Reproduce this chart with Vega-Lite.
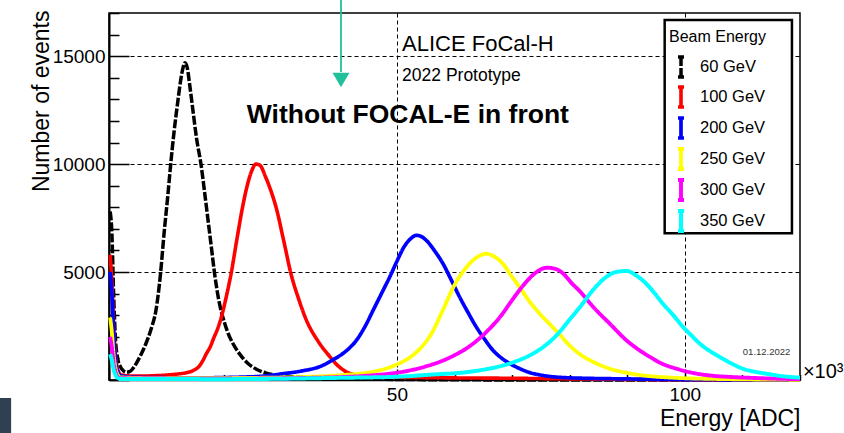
{
"$schema":"https://vega.github.io/schema/vega-lite/v6.json",
"width":691,"height":367,
"autosize":{"type":"none"},
"padding":{"left":109,"top":13,"right":44,"bottom":53},
"background":"white",
"config":{"view":{"stroke":"black","strokeWidth":1.5},"font":"Liberation Sans"},
"datasets":{
"curves":[
{"s":"60 GeV","E":0.2,"N":7800},{"s":"60 GeV","E":0.5,"N":6800},{"s":"60 GeV","E":0.8,"N":4000},{"s":"60 GeV","E":1.1,"N":2000},{"s":"60 GeV","E":1.5,"N":1000},{"s":"60 GeV","E":2.0,"N":600},{"s":"60 GeV","E":2.5,"N":430},{"s":"60 GeV","E":3.0,"N":360},{"s":"60 GeV","E":3.5,"N":380},{"s":"60 GeV","E":4.0,"N":480},{"s":"60 GeV","E":4.7,"N":750},{"s":"60 GeV","E":5.5,"N":1150},{"s":"60 GeV","E":6.4,"N":1680},{"s":"60 GeV","E":7.3,"N":2350},{"s":"60 GeV","E":8.2,"N":3300},{"s":"60 GeV","E":8.9,"N":4800},{"s":"60 GeV","E":9.6,"N":6900},{"s":"60 GeV","E":10.2,"N":8500},{"s":"60 GeV","E":10.7,"N":9950},{"s":"60 GeV","E":11.3,"N":11500},{"s":"60 GeV","E":11.9,"N":12800},{"s":"60 GeV","E":12.4,"N":13800},{"s":"60 GeV","E":12.8,"N":14400},{"s":"60 GeV","E":13.2,"N":14700},{"s":"60 GeV","E":13.6,"N":14450},{"s":"60 GeV","E":14.0,"N":13700},{"s":"60 GeV","E":14.5,"N":12650},{"s":"60 GeV","E":15.2,"N":11200},{"s":"60 GeV","E":16.0,"N":9950},{"s":"60 GeV","E":16.6,"N":8700},{"s":"60 GeV","E":17.2,"N":7400},{"s":"60 GeV","E":17.8,"N":6100},{"s":"60 GeV","E":18.3,"N":5000},{"s":"60 GeV","E":18.8,"N":4100},{"s":"60 GeV","E":19.3,"N":3400},{"s":"60 GeV","E":20.0,"N":2700},{"s":"60 GeV","E":20.7,"N":2150},{"s":"60 GeV","E":21.5,"N":1700},{"s":"60 GeV","E":22.7,"N":1200},{"s":"60 GeV","E":24.0,"N":800},{"s":"60 GeV","E":25.6,"N":500},{"s":"60 GeV","E":27.3,"N":320},{"s":"60 GeV","E":29.0,"N":220},{"s":"60 GeV","E":32,"N":150},{"s":"60 GeV","E":36,"N":90},{"s":"60 GeV","E":45,"N":40},{"s":"60 GeV","E":60,"N":10},{"s":"60 GeV","E":80,"N":0},{"s":"60 GeV","E":120,"N":0},
{"s":"100 GeV","E":0.2,"N":5800},{"s":"100 GeV","E":0.5,"N":4500},{"s":"100 GeV","E":0.8,"N":2500},{"s":"100 GeV","E":1.1,"N":1200},{"s":"100 GeV","E":1.5,"N":500},{"s":"100 GeV","E":2.0,"N":250},{"s":"100 GeV","E":3,"N":200},{"s":"100 GeV","E":5,"N":180},{"s":"100 GeV","E":8,"N":200},{"s":"100 GeV","E":10,"N":230},{"s":"100 GeV","E":12,"N":280},{"s":"100 GeV","E":13.5,"N":340},{"s":"100 GeV","E":14.7,"N":450},{"s":"100 GeV","E":15.7,"N":650},{"s":"100 GeV","E":16.3,"N":900},{"s":"100 GeV","E":16.9,"N":1215},{"s":"100 GeV","E":17.6,"N":1550},{"s":"100 GeV","E":18.2,"N":1950},{"s":"100 GeV","E":18.9,"N":2400},{"s":"100 GeV","E":19.5,"N":2900},{"s":"100 GeV","E":20.4,"N":3900},{"s":"100 GeV","E":21.2,"N":4925},{"s":"100 GeV","E":22.2,"N":6500},{"s":"100 GeV","E":23.2,"N":8015},{"s":"100 GeV","E":24.0,"N":9000},{"s":"100 GeV","E":24.8,"N":9700},{"s":"100 GeV","E":25.5,"N":10000},{"s":"100 GeV","E":26.2,"N":9950},{"s":"100 GeV","E":27.2,"N":9400},{"s":"100 GeV","E":28.2,"N":8700},{"s":"100 GeV","E":29.0,"N":8015},{"s":"100 GeV","E":30.3,"N":6500},{"s":"100 GeV","E":31.6,"N":4925},{"s":"100 GeV","E":33.0,"N":3700},{"s":"100 GeV","E":34.3,"N":2760},{"s":"100 GeV","E":36.3,"N":1800},{"s":"100 GeV","E":38.3,"N":1100},{"s":"100 GeV","E":39.8,"N":650},{"s":"100 GeV","E":41.2,"N":380},{"s":"100 GeV","E":43,"N":230},{"s":"100 GeV","E":46,"N":150},{"s":"100 GeV","E":55,"N":110},{"s":"100 GeV","E":70,"N":80},{"s":"100 GeV","E":85,"N":40},{"s":"100 GeV","E":100,"N":10},{"s":"100 GeV","E":120,"N":0},
{"s":"200 GeV","E":0.2,"N":5000},{"s":"200 GeV","E":0.5,"N":4000},{"s":"200 GeV","E":0.8,"N":2200},{"s":"200 GeV","E":1.1,"N":1000},{"s":"200 GeV","E":1.5,"N":400},{"s":"200 GeV","E":2,"N":200},{"s":"200 GeV","E":5,"N":120},{"s":"200 GeV","E":15,"N":100},{"s":"200 GeV","E":25,"N":150},{"s":"200 GeV","E":30.2,"N":290},{"s":"200 GeV","E":33.5,"N":420},{"s":"200 GeV","E":36.6,"N":620},{"s":"200 GeV","E":39,"N":950},{"s":"200 GeV","E":41.2,"N":1350},{"s":"200 GeV","E":43,"N":1850},{"s":"200 GeV","E":44.5,"N":2500},{"s":"200 GeV","E":46,"N":3300},{"s":"200 GeV","E":47.5,"N":4100},{"s":"200 GeV","E":48.8,"N":4800},{"s":"200 GeV","E":50,"N":5500},{"s":"200 GeV","E":51.2,"N":6150},{"s":"200 GeV","E":52.4,"N":6550},{"s":"200 GeV","E":53.4,"N":6700},{"s":"200 GeV","E":54.2,"N":6650},{"s":"200 GeV","E":55.1,"N":6470},{"s":"200 GeV","E":56.5,"N":6000},{"s":"200 GeV","E":58.0,"N":5390},{"s":"200 GeV","E":59.5,"N":4600},{"s":"200 GeV","E":60.9,"N":3840},{"s":"200 GeV","E":62.3,"N":3150},{"s":"200 GeV","E":63.8,"N":2450},{"s":"200 GeV","E":65.2,"N":1900},{"s":"200 GeV","E":66.7,"N":1370},{"s":"200 GeV","E":68.5,"N":950},{"s":"200 GeV","E":70.8,"N":594},{"s":"200 GeV","E":73,"N":350},{"s":"200 GeV","E":75.4,"N":210},{"s":"200 GeV","E":80,"N":100},{"s":"200 GeV","E":90,"N":50},{"s":"200 GeV","E":100,"N":20},{"s":"200 GeV","E":120,"N":0},
{"s":"250 GeV","E":0.2,"N":2900},{"s":"250 GeV","E":0.5,"N":2200},{"s":"250 GeV","E":0.8,"N":1200},{"s":"250 GeV","E":1.1,"N":600},{"s":"250 GeV","E":1.5,"N":250},{"s":"250 GeV","E":2,"N":120},{"s":"250 GeV","E":10,"N":80},{"s":"250 GeV","E":25,"N":100},{"s":"250 GeV","E":35,"N":150},{"s":"250 GeV","E":40,"N":220},{"s":"250 GeV","E":45.8,"N":380},{"s":"250 GeV","E":48,"N":520},{"s":"250 GeV","E":50,"N":720},{"s":"250 GeV","E":52,"N":1000},{"s":"250 GeV","E":54,"N":1450},{"s":"250 GeV","E":56,"N":2150},{"s":"250 GeV","E":58,"N":3250},{"s":"250 GeV","E":60,"N":4400},{"s":"250 GeV","E":62,"N":5200},{"s":"250 GeV","E":64,"N":5700},{"s":"250 GeV","E":65.5,"N":5850},{"s":"250 GeV","E":67,"N":5700},{"s":"250 GeV","E":68.4,"N":5390},{"s":"250 GeV","E":69.8,"N":4850},{"s":"250 GeV","E":71.3,"N":4300},{"s":"250 GeV","E":73,"N":3650},{"s":"250 GeV","E":74.8,"N":3070},{"s":"250 GeV","E":76.5,"N":2600},{"s":"250 GeV","E":78.3,"N":2100},{"s":"250 GeV","E":79.8,"N":1650},{"s":"250 GeV","E":81.5,"N":1250},{"s":"250 GeV","E":84,"N":850},{"s":"250 GeV","E":87,"N":520},{"s":"250 GeV","E":90,"N":330},{"s":"250 GeV","E":92.8,"N":210},{"s":"250 GeV","E":97,"N":120},{"s":"250 GeV","E":105,"N":50},{"s":"250 GeV","E":120,"N":10},
{"s":"300 GeV","E":0.2,"N":2000},{"s":"300 GeV","E":0.5,"N":1500},{"s":"300 GeV","E":0.8,"N":800},{"s":"300 GeV","E":1.1,"N":400},{"s":"300 GeV","E":1.5,"N":150},{"s":"300 GeV","E":2,"N":80},{"s":"300 GeV","E":20,"N":60},{"s":"300 GeV","E":35,"N":100},{"s":"300 GeV","E":45,"N":200},{"s":"300 GeV","E":52,"N":430},{"s":"300 GeV","E":55,"N":630},{"s":"300 GeV","E":58,"N":900},{"s":"300 GeV","E":60,"N":1150},{"s":"300 GeV","E":62,"N":1450},{"s":"300 GeV","E":64,"N":1850},{"s":"300 GeV","E":66,"N":2350},{"s":"300 GeV","E":68,"N":2950},{"s":"300 GeV","E":70,"N":3700},{"s":"300 GeV","E":72,"N":4400},{"s":"300 GeV","E":74,"N":4950},{"s":"300 GeV","E":76,"N":5200},{"s":"300 GeV","E":77.5,"N":5150},{"s":"300 GeV","E":78.9,"N":4925},{"s":"300 GeV","E":80.3,"N":4500},{"s":"300 GeV","E":81.8,"N":4100},{"s":"300 GeV","E":84.1,"N":3380},{"s":"300 GeV","E":87,"N":2600},{"s":"300 GeV","E":89.9,"N":1830},{"s":"300 GeV","E":92,"N":1400},{"s":"300 GeV","E":94,"N":1060},{"s":"300 GeV","E":96,"N":760},{"s":"300 GeV","E":98.6,"N":520},{"s":"300 GeV","E":101,"N":350},{"s":"300 GeV","E":104.3,"N":210},{"s":"300 GeV","E":108,"N":140},{"s":"300 GeV","E":112.4,"N":90},{"s":"300 GeV","E":116,"N":60},{"s":"300 GeV","E":120,"N":40},
{"s":"350 GeV","E":0.2,"N":1200},{"s":"350 GeV","E":0.5,"N":900},{"s":"350 GeV","E":0.8,"N":500},{"s":"350 GeV","E":1.1,"N":250},{"s":"350 GeV","E":1.5,"N":100},{"s":"350 GeV","E":2,"N":50},{"s":"350 GeV","E":20,"N":40},{"s":"350 GeV","E":40,"N":100},{"s":"350 GeV","E":50,"N":150},{"s":"350 GeV","E":56,"N":250},{"s":"350 GeV","E":62,"N":360},{"s":"350 GeV","E":65.5,"N":500},{"s":"350 GeV","E":68.4,"N":670},{"s":"350 GeV","E":71,"N":900},{"s":"350 GeV","E":73.6,"N":1215},{"s":"350 GeV","E":76,"N":1650},{"s":"350 GeV","E":78,"N":2150},{"s":"350 GeV","E":80,"N":2800},{"s":"350 GeV","E":82,"N":3450},{"s":"350 GeV","E":84,"N":4150},{"s":"350 GeV","E":86,"N":4700},{"s":"350 GeV","E":88,"N":5000},{"s":"350 GeV","E":89.9,"N":5050},{"s":"350 GeV","E":91.5,"N":4850},{"s":"350 GeV","E":93.3,"N":4460},{"s":"350 GeV","E":94.8,"N":4000},{"s":"350 GeV","E":96.2,"N":3530},{"s":"350 GeV","E":98,"N":3000},{"s":"350 GeV","E":99.7,"N":2450},{"s":"350 GeV","E":101.2,"N":2050},{"s":"350 GeV","E":102.6,"N":1680},{"s":"350 GeV","E":104.3,"N":1350},{"s":"350 GeV","E":106.1,"N":1060},{"s":"350 GeV","E":108,"N":780},{"s":"350 GeV","E":110.1,"N":520},{"s":"350 GeV","E":112,"N":390},{"s":"350 GeV","E":114.2,"N":290},{"s":"350 GeV","E":116.5,"N":190},{"s":"350 GeV","E":118.8,"N":130},{"s":"350 GeV","E":120,"N":110}
]},
"encoding":{
  "x":{"field":"E","type":"quantitative","scale":{"domain":[0,120],"nice":false,"zero":false},
   "axis":{"title":"Energy [ADC]","titleFont":"Liberation Sans","titleFontSize":23,"titleFontWeight":"normal","titleColor":"black","titleAlign":"right","titleX":691,"titleY":45,"titleBaseline":"alphabetic",
    "values":[0,10,20,30,40,50,60,70,80,90,100,110,120],
    "labelExpr":"datum.value==50||datum.value==100 ? datum.label : ''",
    "format":"d","labelFont":"Liberation Sans","labelFontSize":19,"labelColor":"black","labelPadding":16,"labelFlush":false,"labelOverlap":false,
    "tickColor":"black","tickWidth":1.5,"tickSize":{"condition":{"test":"datum.value%50===0","value":-11},"value":-5.5},
    "domainColor":"black","domainWidth":1.5,
    "grid":true,"gridColor":"black","gridDash":[4,3],"gridWidth":1,"gridOpacity":{"condition":{"test":"datum.value==50||datum.value==100","value":1},"value":0}}},
  "y":{"field":"N","type":"quantitative","scale":{"domain":[0,17000],"nice":false,"zero":false},
   "axis":{"title":"Number of events","titleFont":"Liberation Sans","titleFontSize":23,"titleFontWeight":"normal","titleColor":"black","titleAngle":-90,"titleAlign":"right","titleBaseline":"middle","titleX":-68,"titleY":-3,
    "values":[0,1000,2000,3000,4000,5000,6000,7000,8000,9000,10000,11000,12000,13000,14000,15000,16000,17000],
    "labelExpr":"datum.value==5000||datum.value==10000||datum.value==15000 ? datum.label : ''",
    "format":"d","labelFont":"Liberation Sans","labelFontSize":19,"labelColor":"black","labelPadding":24,"labelFlush":false,"labelOverlap":false,
    "tickColor":"black","tickWidth":1.5,"tickSize":{"condition":{"test":"datum.value%5000===0","value":-20},"value":-10},
    "domainColor":"black","domainWidth":2,
    "grid":true,"gridColor":"black","gridDash":[4,3],"gridWidth":1,"gridOpacity":{"condition":{"test":"datum.value%5000===0 && datum.value>0","value":1},"value":0}}}
},
"layer":[
{"data":{"name":"curves"},
 "mark":{"type":"line","interpolate":"monotone"},
 "encoding":{
  "color":{"field":"s","type":"nominal","sort":null,
   "scale":{"domain":["60 GeV","100 GeV","200 GeV","250 GeV","300 GeV","350 GeV"],"range":["#000000","#ff0000","#0000ff","#ffff00","#ff00ff","#00ffff"]},
   "legend":{"orient":"none","legendX":560,"legendY":16,"title":"Beam Energy","titleFont":"Liberation Sans","titleFontSize":16,"titleFontWeight":"normal","titleColor":"black","labelFont":"Liberation Sans","labelFontSize":16.5,"labelColor":"black","symbolType":"M0,-1V1M-0.3,-1H0.3M-0.3,1H0.3","symbolSize":400,"symbolStrokeWidth":3,"symbolDash":[],"rowPadding":-5,"labelOffset":7,"titlePadding":10,"padding":0}},
  "strokeWidth":{"field":"s","type":"nominal","sort":null,"legend":null,
   "scale":{"domain":["60 GeV","100 GeV","200 GeV","250 GeV","300 GeV","350 GeV"],"range":[3.5,4,4.5,4.5,6,4.5]}},
  "strokeDash":{"field":"s","type":"nominal","sort":null,"legend":null,
   "scale":{"domain":["60 GeV","100 GeV","200 GeV","250 GeV","300 GeV","350 GeV"],"range":[[9,2],[1,0],[1,0],[1,0],[1,0],[1,0]]}}
 }},
{"data":{"values":[{"E":96.5,"E2":118.6,"N":16673,"N2":6795}]},
 "mark":{"type":"rect","fill":"white","stroke":"black","strokeWidth":2.5},
 "encoding":{"x2":{"field":"E2"},"y2":{"field":"N2"}}},
{"data":{"values":[{"E":50.9,"N":15217,"t":"ALICE FoCal-H"}]},
 "mark":{"type":"text","align":"left","baseline":"alphabetic","font":"Liberation Sans","fontSize":22,"color":"black"},
 "encoding":{"text":{"field":"t"}}},
{"data":{"values":[{"E":50.9,"N":13850,"t":"2022 Prototype"}]},
 "mark":{"type":"text","align":"left","baseline":"alphabetic","font":"Liberation Sans","fontSize":17.5,"color":"black"},
 "encoding":{"text":{"field":"t"}}},
{"data":{"values":[{"E":51.9,"N":11890,"t":"Without FOCAL-E in front"}]},
 "mark":{"type":"text","align":"center","baseline":"alphabetic","font":"Liberation Sans","fontSize":26.5,"fontWeight":"bold","color":"black"},
 "encoding":{"text":{"field":"t"}}},
{"data":{"values":[{"E":40.29,"N":17700,"N2":14266}]},
 "mark":{"type":"rule","color":"#22bf9b","strokeWidth":1.8,"clip":false},
 "encoding":{"y2":{"field":"N2"}}},
{"data":{"values":[{"E":40.29,"N":13896}]},
 "mark":{"type":"point","shape":"triangle-down","size":289,"filled":true,"color":"#22bf9b","opacity":1},
 "encoding":{}},
{"data":{"values":[{"E":120.5,"N":370,"t":"×10³"}]},
 "mark":{"type":"text","align":"left","baseline":"middle","font":"Liberation Sans","fontSize":20,"color":"black"},
 "encoding":{"text":{"field":"t"}}},
{"data":{"values":[{"E":114.2,"N":1311,"t":"01.12.2022"}]},
 "mark":{"type":"text","align":"center","baseline":"middle","font":"Liberation Sans","fontSize":9.5,"color":"#333333"},
 "encoding":{"text":{"field":"t"}}},
{"data":{"values":[{"E":-18.93,"E2":-17.0,"N":-834,"N2":-2500}]},
 "mark":{"type":"rect","fill":"#2f4053","clip":false},
 "encoding":{"x2":{"field":"E2"},"y2":{"field":"N2"}}}
]
}
